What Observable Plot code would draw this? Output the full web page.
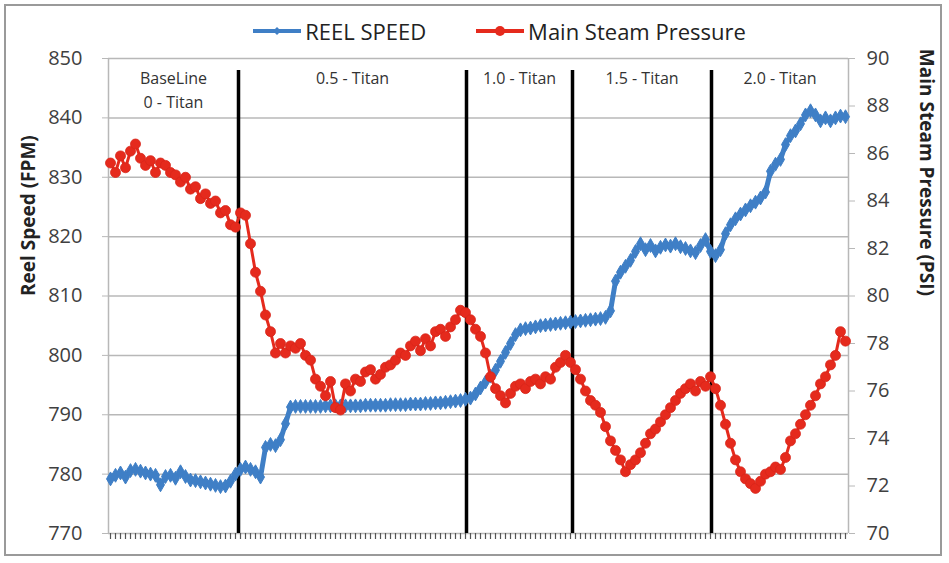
<!DOCTYPE html>
<html>
<head>
<meta charset="utf-8">
<script src="https://cdn.jsdelivr.net/npm/d3@7"></script>
<script src="https://cdn.jsdelivr.net/npm/@observablehq/plot@0.6"></script>
<style>
  body { margin: 0; background: #fff; }
  #wrap { position: relative; width: 949px; height: 563px; font-family: "Open Sans", sans-serif; }
  #border { position: absolute; left: 4px; top: 4px; width: 938px; height: 552px; border: 2px solid #9a9a9a; box-sizing: border-box; pointer-events: none; }
  #legend { position: absolute; top: 16px; left: 0; width: 949px; display: flex; justify-content: center; gap: 50px; font-size: 22px; color: #222; padding-left: 50px; box-sizing: border-box; }
  #legend .item { display: flex; align-items: center; gap: 4px; }
</style>
</head>
<body>
<div id="wrap">
  <div id="legend"></div>
  <div id="chart"></div>
  <div id="border"></div>
</div>
<script>
// Reel speed (FPM), one reading per sample
const reelSpeed = [
  779.2,779.8,780.2,779.5,780.6,780.8,780.5,780.2,780.0,779.8,
  778.2,779.6,779.8,779.3,780.4,779.6,779.0,778.9,778.7,778.5,
  778.3,778.1,777.9,778.0,778.8,780.0,780.8,781.2,780.8,780.4,
  779.5,784.5,785.0,784.8,785.8,788.5,791.3,791.4,791.4,791.4,
  791.4,791.4,791.4,791.5,791.5,791.5,791.5,791.5,791.5,791.5,
  791.5,791.6,791.6,791.6,791.6,791.6,791.7,791.7,791.7,791.7,
  791.8,791.8,791.8,791.9,791.9,792.0,792.0,792.1,792.2,792.3,
  792.4,792.6,792.8,793.5,794.5,795.5,796.5,797.5,799.0,800.5,
  802.0,803.5,804.3,804.5,804.6,804.8,805.0,805.1,805.2,805.3,
  805.4,805.5,805.6,805.7,805.8,805.9,806.0,806.1,806.2,806.4,
  807.5,812.5,814.0,815.0,816.0,817.5,818.8,817.8,818.5,817.6,
  818.2,818.6,818.4,818.8,818.3,818.0,817.6,817.3,818.5,819.5,
  817.5,816.8,817.8,820.5,822.0,823.0,823.8,824.5,825.2,825.8,
  826.5,827.5,831.0,832.2,833.0,835.5,837.0,837.8,839.0,840.5,
  841.2,840.5,839.5,840.0,839.5,840.0,840.3,840.2
];
// Main steam pressure (PSI), one reading per sample
const steamPressure = [
  85.6,85.2,85.9,85.4,86.1,86.4,85.8,85.5,85.7,85.2,
  85.6,85.5,85.2,85.1,84.8,85.0,84.5,84.6,84.1,84.3,
  83.9,84.0,83.5,83.6,83.0,82.9,83.5,83.4,82.2,81.0,
  80.2,79.2,78.5,77.6,78.0,77.6,77.9,77.8,78.0,77.5,
  77.3,76.5,76.2,75.8,76.4,75.3,75.2,76.3,76.0,76.5,
  76.4,76.8,76.9,76.5,76.7,77.0,77.1,77.3,77.6,77.5,
  77.9,78.1,77.7,78.2,77.9,78.5,78.6,78.3,78.7,79.0,
  79.4,79.3,79.0,78.6,78.3,77.6,76.6,76.1,75.8,75.5,
  75.9,76.2,76.3,76.1,76.4,76.5,76.3,76.6,76.5,77.0,
  77.2,77.5,77.2,76.9,76.5,76.0,75.6,75.4,75.1,74.5,
  73.9,73.5,73.1,72.6,72.9,73.1,73.4,73.8,74.2,74.4,
  74.7,75.0,75.3,75.6,75.9,76.1,76.3,76.0,76.4,76.2,
  76.6,76.1,75.4,74.6,73.8,73.1,72.6,72.3,72.1,71.9,
  72.2,72.5,72.6,72.8,72.7,73.2,73.9,74.2,74.6,75.0,
  75.4,75.8,76.3,76.6,77.1,77.5,78.5,78.1
];
// Phase boundaries (sample index) and labels
const phaseBreaks = [25.6, 71.2, 92.4, 120.2];
const phaseLabels = ["BaseLine\n0 - Titan", "0.5 - Titan", "1.0 - Titan", "1.5 - Titan", "2.0 - Titan"];
const reelTicks = [770, 780, 790, 800, 810, 820, 830, 840, 850];
const pressureTicks = [70, 72, 74, 76, 78, 80, 82, 84, 86, 88, 90];
const leftTitle = "Reel Speed (FPM)";
const rightTitle = "Main Steam Pressure (PSI)";

const n = Math.min(reelSpeed.length, steamPressure.length);
const xDomain = [-0.4, n - 0.4];
const reelData = reelSpeed.slice(0, n).map((v, i) => ({i, v}));
const pressData = steamPressure.slice(0, n).map((v, i) => ({i, v}));
// map pressure (70-90) onto reel axis (770-850)
const p2r = p => 770 + (p - 70) * 4;
const r2p = r => (r - 770) / 4 + 70;

const edges = [xDomain[0], ...phaseBreaks, xDomain[1]];
const labelData = phaseLabels.map((t, k) => ({t, x: (edges[k] + edges[k + 1]) / 2}));

const BLUE = "#3f7fc6";
const RED = "#e52a1d";

const chart = Plot.plot({
  width: 949,
  height: 563,
  marginTop: 58,
  marginBottom: 30,
  marginLeft: 108,
  marginRight: 101,
  style: {fontFamily: "'Open Sans', sans-serif", fontSize: "20px", color: "#404040", background: "transparent"},
  x: {domain: xDomain},
  y: {domain: [770, 850]},
  marks: [
    Plot.gridY(reelTicks, {stroke: "#b8b8b8", strokeOpacity: 1, strokeWidth: 1.5}),
    Plot.ruleX([xDomain[0], xDomain[1]], {stroke: "#b8b8b8", strokeWidth: 1.5}),
    Plot.axisX(d3.range(n), {tickSize: 6, tickFormat: () => "", stroke: "#555", strokeWidth: 1.2, label: null}),
    Plot.axisY(reelTicks, {anchor: "left", tickSize: 6, tickPadding: 20, stroke: "#b8b8b8", label: null, fontSize: 20}),
    Plot.axisY(pressureTicks.map(p2r), {anchor: "right", tickSize: 6, tickPadding: 12, stroke: "#b8b8b8", tickFormat: r2p, label: null, fontSize: 20}),
    Plot.text([leftTitle], {frameAnchor: "left", dx: -80, rotate: -90, fontWeight: "bold", fontSize: 19, fill: "#222"}),
    Plot.text([rightTitle], {frameAnchor: "right", dx: 78, rotate: 90, fontWeight: "bold", fontSize: 19, fill: "#222"}),
    Plot.ruleX(phaseBreaks, {x: d => d, y1: 770, y2: 848, stroke: "#000", strokeWidth: 3.5}),
    Plot.text(labelData, {x: "x", y: 848.6, text: "t", lineAnchor: "top", lineHeight: 1.5, fontSize: 16, fill: "#333"}),
    Plot.line(reelData, {x: "i", y: "v", stroke: BLUE, strokeWidth: 5}),
    Plot.dot(reelData, {x: "i", y: "v", symbol: "diamond", r: 4.2, fill: BLUE, stroke: BLUE, strokeWidth: 1}),
    Plot.line(pressData, {x: "i", y: d => p2r(d.v), stroke: RED, strokeWidth: 3}),
    Plot.dot(pressData, {x: "i", y: d => p2r(d.v), r: 5, fill: RED, stroke: "#d8261a", strokeWidth: 0.8})
  ]
});
document.getElementById("chart").appendChild(chart);

// Legend
const legend = document.getElementById("legend");
[["REEL SPEED", BLUE, "diamond"], ["Main Steam Pressure", RED, "circle"]].forEach(([name, color, sym]) => {
  const item = document.createElement("div");
  item.className = "item";
  const marker = sym === "diamond"
    ? `<polygon points="24,3 28,7 24,11 20,7" fill="${color}"/>`
    : `<circle cx="24" cy="7" r="5" fill="${color}"/>`;
  item.innerHTML = `<svg width="48" height="14"><line x1="0" y1="7" x2="48" y2="7" stroke="${color}" stroke-width="4"/>${marker}</svg><span>${name}</span>`;
  legend.appendChild(item);
});
</script>
</body>
</html>
